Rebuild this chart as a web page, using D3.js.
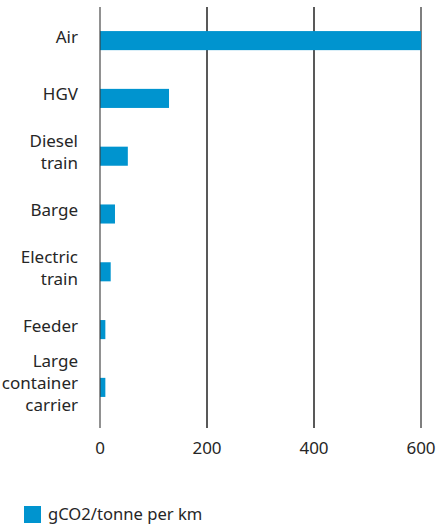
<!DOCTYPE html>
<html>
  <head>
    <meta charset="utf-8">
    <style>
      body { margin: 0; background: #fff; }
      text { font-family: "Noto Sans", sans-serif; fill: #262626; }
    </style>
  </head>
  <body>
    <div id="chart"></div>
    <script src="https://cdn.jsdelivr.net/npm/d3@7"></script>
    <script>
      const categories = ['Air', 'HGV', 'Diesel train', 'Barge', 'Electric train', 'Feeder', 'Large container carrier'];
      const labelLines = [['Air'], ['HGV'], ['Diesel', 'train'], ['Barge'], ['Electric', 'train'], ['Feeder'], ['Large', 'container', 'carrier']];
      const values = [600, 129, 52, 28, 20, 10, 10];
      const ticks = [0, 200, 400, 600];
      const seriesName = 'gCO2/tonne per km';

      const width = 440, height = 526;
      const color = '#0094cf';

      const svg = d3.select('#chart').append('svg')
        .attr('width', width)
        .attr('height', height);

      const x = d3.scaleLinear()
        .domain([0, 600])
        .range([100, 421]);

      const y = d3.scaleBand()
        .domain(categories)
        .range([12, 416])
        .paddingInner(0.67)
        .paddingOuter(0.33);

      // vertical gridlines (behind bars)
      svg.append('g')
        .selectAll('line')
        .data(ticks.filter(d => d !== 0))
        .join('line')
        .attr('x1', d => x(d))
        .attr('x2', d => x(d))
        .attr('y1', 7)
        .attr('y2', 428)
        .attr('stroke', d => d === 600 ? '#555' : '#222')
        .attr('stroke-width', 1.5);

      // bars
      svg.append('g')
        .selectAll('rect')
        .data(categories)
        .join('rect')
        .attr('x', x(0))
        .attr('y', d => y(d))
        .attr('width', (d, i) => x(values[i]) - x(0))
        .attr('height', y.bandwidth())
        .attr('fill', color);

      // zero line on top
      svg.append('line')
        .attr('x1', x(0))
        .attr('x2', x(0))
        .attr('y1', 7)
        .attr('y2', 428)
        .attr('stroke', 'rgba(60,60,60,0.75)')
        .attr('stroke-width', 1.5);

      // tick labels
      svg.append('g')
        .selectAll('text')
        .data(ticks)
        .join('text')
        .attr('x', d => x(d))
        .attr('y', 448)
        .attr('dy', '0.35em')
        .attr('text-anchor', 'middle')
        .style('font-size', '17px')
        .text(d => d);

      // category labels
      const lh = 22;
      const labels = svg.append('g')
        .selectAll('text')
        .data(categories)
        .join('text')
        .attr('text-anchor', 'end')
        .style('font-size', '17px');

      labels.each(function(d, i) {
        const lines = labelLines[i];
        const cy = y(d) + y.bandwidth() / 2 - 4;
        const top = cy - (lines.length - 1) * lh / 2;
        d3.select(this).selectAll('tspan')
          .data(lines)
          .join('tspan')
          .attr('x', 78)
          .attr('y', (l, j) => top + j * lh)
          .attr('dy', '0.35em')
          .text(l => l);
      });

      // legend
      const legend = svg.append('g');
      legend.append('rect')
        .attr('x', 24)
        .attr('y', 506)
        .attr('width', 17)
        .attr('height', 17)
        .attr('fill', color);
      legend.append('text')
        .attr('x', 48)
        .attr('y', 514)
        .attr('dy', '0.35em')
        .style('font-size', '16.6px')
        .text(seriesName);
    </script>
  </body>
</html>
